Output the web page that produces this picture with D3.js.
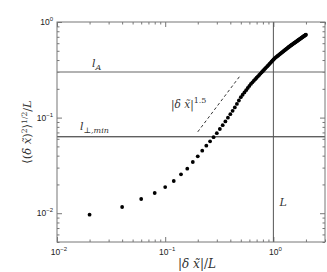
<!DOCTYPE html>
<html>
<head>
<meta charset="utf-8">
<script src="https://cdn.jsdelivr.net/npm/d3@7"></script>
<style>
  body { margin: 0; background: #fff; }
  .tick line { stroke: #777; }
  .serif { font-family: "DejaVu Serif", "Liberation Serif", serif; font-style: italic; }
</style>
</head>
<body>
<div id="chart"></div>
<script>
// data points: separation |dx|/L and rms value
let sepX = [0.02, 0.04, 0.06, 0.08, 0.10, 0.12, 0.14, 0.16, 0.18, 0.20,
    0.22, 0.24, 0.26, 0.28, 0.30, 0.32, 0.34, 0.36, 0.38, 0.40,
    0.42, 0.44, 0.46, 0.48, 0.50, 0.52, 0.54, 0.56, 0.58, 0.60,
    0.62, 0.64, 0.66, 0.68, 0.70, 0.72, 0.74, 0.76, 0.78, 0.80,
    0.82, 0.84, 0.86, 0.88, 0.90, 0.92, 0.94, 0.96, 0.98, 1.00,
    1.02, 1.04, 1.06, 1.08, 1.10, 1.12, 1.14, 1.16, 1.18, 1.20,
    1.22, 1.24, 1.26, 1.28, 1.30, 1.32, 1.34, 1.36, 1.38, 1.40,
    1.42, 1.44, 1.46, 1.48, 1.50, 1.52, 1.54, 1.56, 1.58, 1.60,
    1.62, 1.64, 1.66, 1.68, 1.70, 1.72, 1.74, 1.76, 1.78, 1.80,
    1.82, 1.84, 1.86, 1.88, 1.90, 1.92, 1.94, 1.96, 1.98, 2.00]
let rmsY = [0.00965, 0.01161, 0.01408, 0.01627, 0.01879, 0.02172, 0.02552, 0.02921, 0.03432, 0.03937,
    0.04506, 0.05083, 0.05651, 0.06237, 0.06868, 0.07599, 0.08326, 0.09125, 0.09977, 0.1085,
    0.1178, 0.1279, 0.1390, 0.1510, 0.1637, 0.1734, 0.1835, 0.1937, 0.2040, 0.2146,
    0.2252, 0.2341, 0.2431, 0.2521, 0.2612, 0.2703, 0.2795, 0.2887, 0.2980, 0.3073,
    0.3167, 0.3262, 0.3357, 0.3453, 0.3548, 0.3645, 0.3741, 0.3840, 0.3937, 0.4036,
    0.4135, 0.4220, 0.4294, 0.4367, 0.4441, 0.4513, 0.4586, 0.4660, 0.4732, 0.4805,
    0.4877, 0.4950, 0.5022, 0.5093, 0.5164, 0.5237, 0.5309, 0.5380, 0.5453, 0.5523,
    0.5591, 0.5654, 0.5718, 0.5782, 0.5845, 0.5907, 0.5970, 0.6032, 0.6096, 0.6157,
    0.6220, 0.6282, 0.6344, 0.6406, 0.6467, 0.6530, 0.6590, 0.6653, 0.6713, 0.6775,
    0.6836, 0.6896, 0.6957, 0.7018, 0.7078, 0.7139, 0.7198, 0.7259, 0.7318, 0.7377]

// |dx|^1.5 guide
let guideX = [0.2, 0.5]
let guideY = [0.071, 0.28]

// reference levels
let levelA = 0.3
let levelPerp = 0.063
let levelL = 1

let xTickVals = [0.01, 0.1, 1]
let xTickExp = ["\u22122", "\u22121", "0"]
let yTickVals = [0.01, 0.1, 1]
let yTickExp = ["\u22122", "\u22121", "0"]

var margin = { top: 22, right: 2, bottom: 30, left: 57 },
    width = 327 - margin.left - margin.right,
    height = 272 - margin.top - margin.bottom

let svg = d3.select("#chart")
    .append("svg")
    .attr("width", 327)
    .attr("height", 272)
    .append("g")
    .attr("transform", "translate(" + margin.left + "," + margin.top + ")")

var x = d3.scaleLog().domain([0.01, 3]).range([0, width])
var y = d3.scaleLog().domain([0.005, 1]).range([height, 0])

let majorX = x.ticks().filter(d => xTickVals.some(v => Math.abs(v - d) < 1e-9))
let minorX = x.ticks().filter(d => !majorX.includes(d))
let majorY = y.ticks().filter(d => yTickVals.some(v => Math.abs(v - d) < 1e-9))
let minorY = y.ticks().filter(d => !majorY.includes(d))

function tickAxis(axis, vals, size) {
    return axis.tickValues(vals).tickSizeInner(size).tickSizeOuter(0).tickFormat("")
}

// inward ticks on all four sides
svg.append("g").attr("transform", "translate(0," + height + ")").call(tickAxis(d3.axisBottom(x), majorX, -5))
svg.append("g").attr("transform", "translate(0," + height + ")").call(tickAxis(d3.axisBottom(x), minorX, -2.5))
svg.append("g").call(tickAxis(d3.axisTop(x), majorX, -5))
svg.append("g").call(tickAxis(d3.axisTop(x), minorX, -2.5))
svg.append("g").call(tickAxis(d3.axisLeft(y), majorY, -5))
svg.append("g").call(tickAxis(d3.axisLeft(y), minorY, -2.5))
svg.append("g").attr("transform", "translate(" + width + ",0)").call(tickAxis(d3.axisRight(y), majorY, -5))
svg.append("g").attr("transform", "translate(" + width + ",0)").call(tickAxis(d3.axisRight(y), minorY, -2.5))
svg.selectAll(".domain").remove()

// reference lines
svg.append("line")
    .attr("x1", 0).attr("x2", width)
    .attr("y1", y(levelA)).attr("y2", y(levelA))
    .attr("stroke", "#999").attr("stroke-width", 1.3)
svg.append("line")
    .attr("x1", 0).attr("x2", width)
    .attr("y1", y(levelPerp)).attr("y2", y(levelPerp))
    .attr("stroke", "#222").attr("stroke-width", 1)
svg.append("line")
    .attr("x1", x(levelL)).attr("x2", x(levelL))
    .attr("y1", 0).attr("y2", height)
    .attr("stroke", "#555").attr("stroke-width", 1)

// frame
svg.append("rect")
    .attr("width", width).attr("height", height)
    .attr("fill", "none").attr("stroke", "#777").attr("stroke-width", 1)

// dashed guide
svg.append("line")
    .attr("x1", x(guideX[0])).attr("y1", y(guideY[0]))
    .attr("x2", x(guideX[1])).attr("y2", y(guideY[1]))
    .attr("stroke", "#000").attr("stroke-width", 0.8)
    .attr("stroke-dasharray", "3,2.5")

// data
svg.selectAll("circle")
    .data(sepX.map((d, i) => [d, rmsY[i]]))
    .enter()
    .append("circle")
    .attr("cx", d => x(d[0]))
    .attr("cy", d => y(d[1]))
    .attr("r", 1.9)
    .attr("fill", "#000")

// tick labels  10^n
function powLabel(g, px, py, exp, anchor) {
    let t = g.append("text")
        .attr("x", px).attr("y", py)
        .attr("text-anchor", anchor)
        .attr("font-family", "Liberation Sans, Arial, sans-serif")
        .attr("font-size", 8.5)
        .attr("fill", "#222")
    t.append("tspan").text("10")
    t.append("tspan").attr("dy", -4).attr("font-size", 6).text(exp)
}
xTickVals.forEach((v, i) => powLabel(svg, x(v) + 2, height + 13, xTickExp[i], "middle"))
yTickVals.forEach((v, i) => powLabel(svg, -4, y(v) + 3, yTickExp[i], "end"))

// annotations
let lA = svg.append("text").attr("class", "serif").attr("x", 35).attr("y", y(levelA) - 5)
    .attr("font-size", 11).attr("fill", "#333")
lA.append("tspan").text("l")
lA.append("tspan").attr("dy", 3).attr("font-size", 8).text("A")

let lP = svg.append("text").attr("class", "serif").attr("x", 23).attr("y", y(levelPerp) - 7)
    .attr("font-size", 11).attr("fill", "#333")
lP.append("tspan").text("l")
lP.append("tspan").attr("dy", 3).attr("font-size", 8).text("\u22a5,min")

svg.append("text").attr("class", "serif")
    .attr("x", x(levelL) + 6).attr("y", 184)
    .attr("font-size", 11).attr("fill", "#333")
    .text("L")

let pw = svg.append("text").attr("class", "serif")
    .attr("x", 114).attr("y", 86)
    .attr("font-size", 10.5).attr("fill", "#333")
pw.append("tspan").attr("font-style", "normal").text("|")
pw.append("tspan").text("\u03b4  x\u0303")
pw.append("tspan").attr("font-style", "normal").text("|")
pw.append("tspan").attr("dy", -5).attr("font-size", 8).attr("font-style", "normal").text("1.5")

// axis titles
let xl = svg.append("text").attr("class", "serif")
    .attr("x", width / 2 + 6).attr("y", height + 26)
    .attr("text-anchor", "middle")
    .attr("font-size", 12).attr("fill", "#333")
xl.append("tspan").attr("font-style", "normal").text("|")
xl.append("tspan").text("\u03b4  x\u0303")
xl.append("tspan").attr("font-style", "normal").text("|/")
xl.append("tspan").text("L")

let yl = svg.append("text").attr("class", "serif")
    .attr("transform", "translate(-26," + (height / 2) + ") rotate(-90)")
    .attr("text-anchor", "middle")
    .attr("font-size", 11.5).attr("fill", "#333")
yl.append("tspan").attr("font-style", "normal").text("\u27e8(")
yl.append("tspan").text("\u03b4  x\u0303")
yl.append("tspan").attr("font-style", "normal").text(")")
yl.append("tspan").attr("dy", -4).attr("font-size", 7.5).attr("font-style", "normal").text("2")
yl.append("tspan").attr("dy", 4).attr("font-style", "normal").text("\u27e9")
yl.append("tspan").attr("dy", -4).attr("font-size", 7.5).attr("font-style", "normal").text("1/2")
yl.append("tspan").attr("dy", 4).attr("font-style", "normal").text("/")
yl.append("tspan").text("L")
</script>
</body>
</html>
